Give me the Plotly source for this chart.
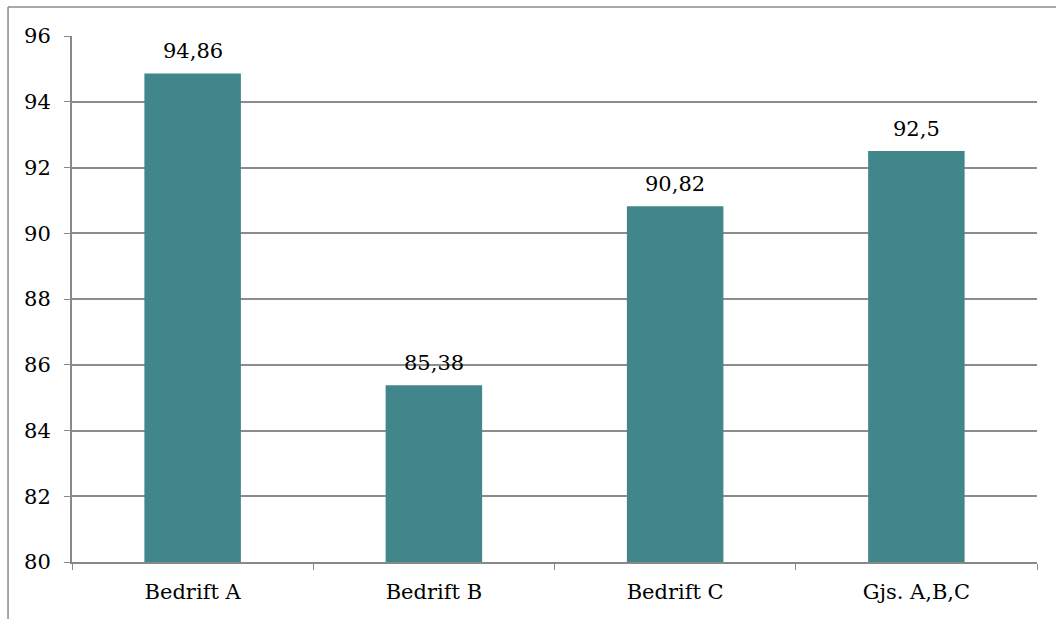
import plotly.graph_objects as go

categories = ["Bedrift A", "Bedrift B", "Bedrift C", "Gjs. A,B,C"]
values = [94.86, 85.38, 90.82, 92.5]
y_ticks = [80, 82, 84, 86, 88, 90, 92, 94, 96]

FONT = "DejaVu Serif"
SIZE = 21
labels = [("%g" % v).replace(".", ",") for v in values]

fig = go.Figure()
fig.add_trace(go.Bar(
    x=categories, y=values, marker=dict(color="#41868A", line=dict(width=0)),
    width=0.4,
))

for c, v, t in zip(categories, values, labels):
    fig.add_annotation(x=c, y=v, text=t, showarrow=False, yanchor="bottom",
                       yshift=8, font=dict(family=FONT, size=SIZE, color="#000"))

# outer chart frame (cropped)
fig.add_shape(type="line", xref="paper", yref="paper", x0=-0.0663, x1=1.1,
              y0=1.0551, y1=1.0551, line=dict(color="#8c8c8c", width=1.5))
fig.add_shape(type="line", xref="paper", yref="paper", x0=-0.0663, x1=-0.0663,
              y0=1.0551, y1=-0.3, line=dict(color="#8c8c8c", width=1.5))

fig.update_layout(
    width=1056, height=619,
    margin=dict(l=72, r=19, t=36, b=57),
    paper_bgcolor="white", plot_bgcolor="white",
    showlegend=False,
    font=dict(family=FONT, size=SIZE, color="#000"),
    xaxis=dict(
        type="category", tickson="boundaries", ticks="outside", ticklen=6,
        tickcolor="#888", showline=True, linecolor="#888", linewidth=2,
        showgrid=False, tickfont=dict(family=FONT, size=SIZE),
        ticklabelstandoff=10,
    ),
    yaxis=dict(
        range=[80, 96], tickvals=y_ticks, ticks="outside", ticklen=6,
        tickcolor="#888", showline=True, linecolor="#888", linewidth=2,
        showgrid=True, gridcolor="#8c8c8c", gridwidth=1.5, zeroline=False,
        tickfont=dict(family=FONT, size=SIZE), ticklabelstandoff=9,
    ),
)

fig.write_html("out.html")
